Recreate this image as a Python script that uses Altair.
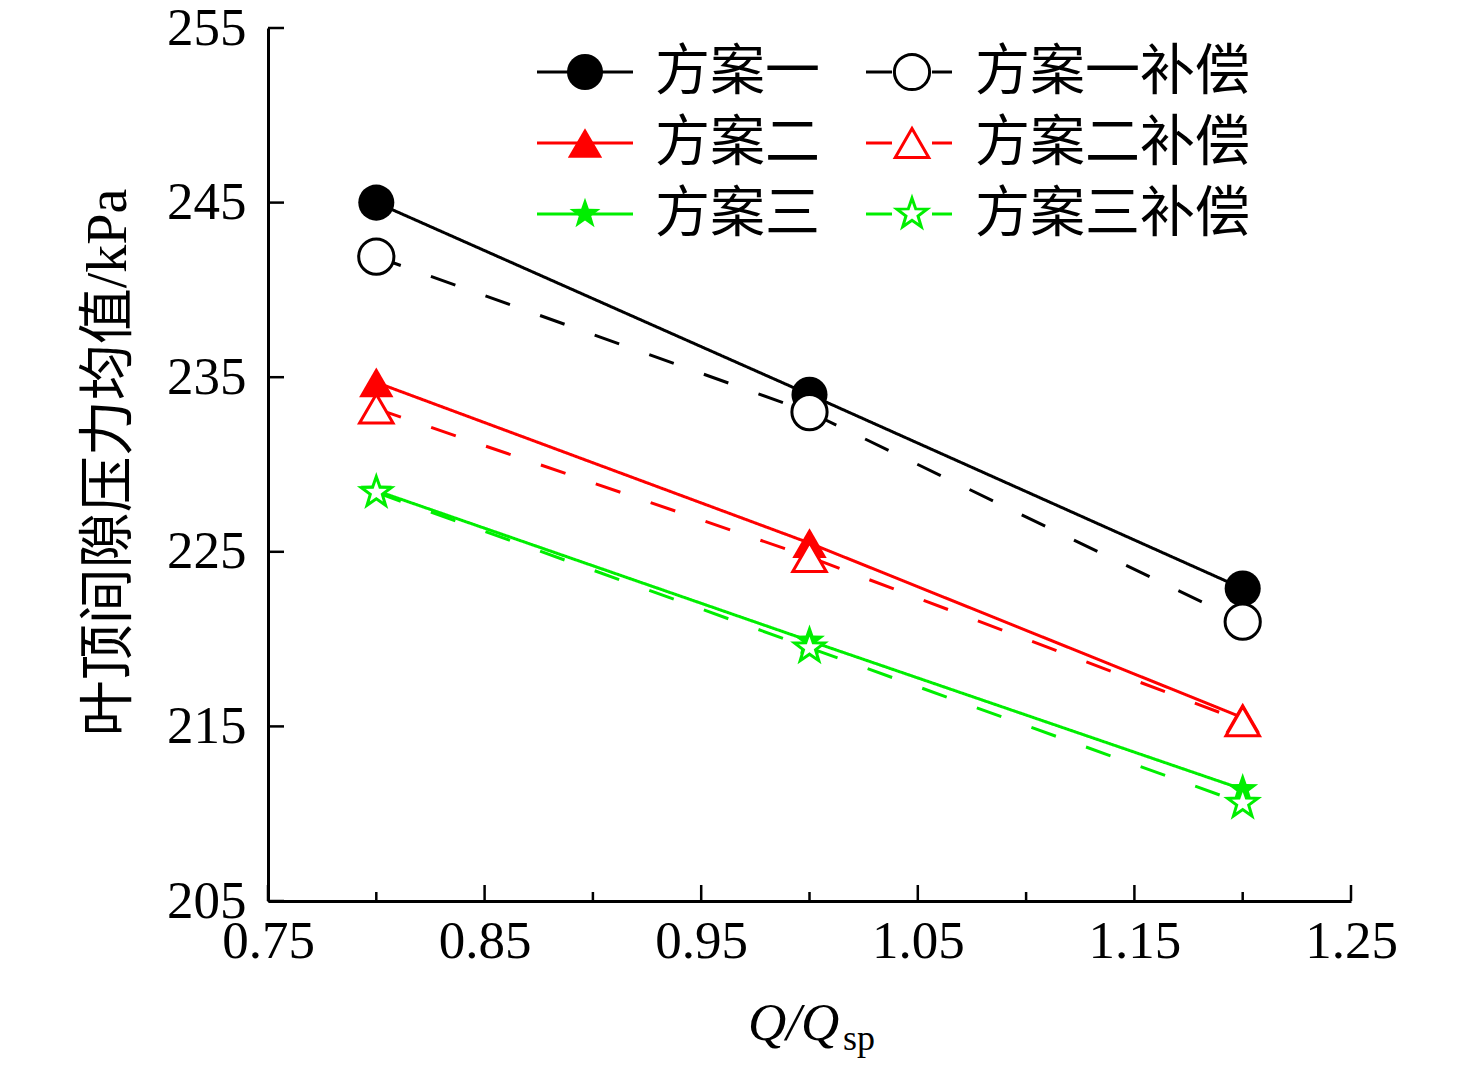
import altair as alt
import pandas as pd

# ---- data ----
x_vals = [0.8, 1.0, 1.2]
series = ["方案一", "方案一补偿", "方案二", "方案二补偿", "方案三", "方案三补偿"]
s1 = [245.0, 234.0, 222.9]
s1c = [241.9, 233.0, 221.0]
s2 = [234.7, 225.5, 215.5]
s2c = [233.2, 224.7, 215.3]
s3 = [228.5, 219.9, 211.4]
s3c = [228.4, 219.5, 210.6]
values = [s1, s1c, s2, s2c, s3, s3c]

x_major = [0.75, 0.85, 0.95, 1.05, 1.15, 1.25]
x_minor = [0.80, 0.90, 1.00, 1.10, 1.20]
y_major = [205, 215, 225, 235, 245, 255]

legend_col = [0, 1, 0, 1, 0, 1]
legend_row = [0, 0, 1, 1, 2, 2]

# ---- styling ----
STAR = ("M0,-1 L0.2351,-0.3236 L0.9511,-0.309 L0.3804,0.1236 L0.5878,0.809 "
        "L0,0.4 L-0.5878,0.809 L-0.3804,0.1236 L-0.9511,-0.309 L-0.2351,-0.3236 Z")
colors = ["#000000", "#000000", "#ff0000", "#ff0000", "#00ee00", "#00ee00"]
shapes = ["circle", "circle", "triangle-up", "triangle-up", STAR, STAR]
sizes = [1300, 1000, 1800, 1650, 1950, 1850]
dashes = [[1, 0], [26, 32], [1, 0], [26, 32], [1, 0], [26, 32]]

FONT = "Liberation Serif, Noto Sans CJK SC"
W, H = 1083, 873

rows = []
for name, vals in zip(series, values):
    for xv, yv in zip(x_vals, vals):
        rows.append({"series": name, "x": xv, "y": yv,
                     "open": name.endswith("补偿")})
df = pd.DataFrame(rows)

color_s = alt.Scale(domain=series, range=colors)
shape_s = alt.Scale(domain=series, range=shapes)
size_s = alt.Scale(domain=series, range=sizes)
dash_s = alt.Scale(domain=series, range=dashes)

xs = alt.Scale(domain=[0.75, 1.25], nice=False, zero=False)
ys = alt.Scale(domain=[205, 255], nice=False, zero=False)

X = alt.X("x:Q", scale=xs,
          axis=alt.Axis(values=x_major, format=".2f", ticks=False, grid=False,
                        domainColor="black", domainWidth=3, labelFont=FONT,
                        labelFontSize=53, labelColor="black", labelPadding=14,
                        labelFlush=False, labelOverlap=False, title=None))
Y = alt.Y("y:Q", scale=ys,
          axis=alt.Axis(values=y_major, format="d", ticks=False, grid=False,
                        domainColor="black", domainWidth=3, labelFont=FONT,
                        labelFontSize=53, labelColor="black", labelPadding=22,
                        labelFlush=False, labelOverlap=False,
                        title="叶顶间隙压力均值/kPa", titleFont=FONT,
                        titleFontSize=56, titleFontWeight="normal",
                        titleColor="black", titleX=-160, titleY=434,
                        titleBaseline="middle", titleAlign="center"))

base = alt.Chart(df)

lines = base.mark_line(strokeWidth=3).encode(
    x=X, y=Y,
    color=alt.Color("series:N", scale=color_s, legend=None),
    strokeDash=alt.StrokeDash("series:N", scale=dash_s, legend=None),
    detail="series:N",
)

filled_pts = base.transform_filter("!datum.open").mark_point(
    filled=True, opacity=1).encode(
    x="x:Q", y="y:Q",
    color=alt.Color("series:N", scale=color_s, legend=None),
    shape=alt.Shape("series:N", scale=shape_s, legend=None),
    size=alt.Size("series:N", scale=size_s, legend=None),
)

open_pts = base.transform_filter("datum.open").mark_point(
    filled=False, fill="white", fillOpacity=1, strokeWidth=3, opacity=1).encode(
    x="x:Q", y="y:Q",
    stroke=alt.Stroke("series:N", scale=color_s, legend=None),
    shape=alt.Shape("series:N", scale=shape_s, legend=None),
    size=alt.Size("series:N", scale=size_s, legend=None),
)

# ---- inward ticks ----
tick_major_x = alt.Chart(pd.DataFrame({"t": x_major})).mark_rule(
    color="black", strokeWidth=2.5).encode(
    x=alt.X("t:Q", scale=xs), y=alt.value(H), y2=alt.value(H - 16))
tick_minor_x = alt.Chart(pd.DataFrame({"t": x_minor})).mark_rule(
    color="black", strokeWidth=2.5).encode(
    x=alt.X("t:Q", scale=xs), y=alt.value(H), y2=alt.value(H - 9))
tick_major_y = alt.Chart(pd.DataFrame({"t": y_major})).mark_rule(
    color="black", strokeWidth=2.5).encode(
    y=alt.Y("t:Q", scale=ys), x=alt.value(0), x2=alt.value(16))

# ---- x title: Q/Q with subscript sp ----
xt1 = alt.Chart(pd.DataFrame({"t": ["Q/Q"]})).mark_text(
    font=FONT, fontSize=53, fontStyle="italic", align="left",
    baseline="alphabetic", color="black").encode(
    text="t:N", x=alt.value(480), y=alt.value(1012))
xt2 = alt.Chart(pd.DataFrame({"t": ["sp"]})).mark_text(
    font=FONT, fontSize=36, align="left", baseline="alphabetic",
    color="black").encode(
    text="t:N", x=alt.value(575), y=alt.value(1022))

# ---- manual legend ----
leg = pd.DataFrame({"series": series, "col": legend_col, "row": legend_row,
                    "open": [s.endswith("补偿") for s in series]})
lbase = alt.Chart(leg).transform_calculate(
    lx0="269 + 329*datum.col",
    lx1="365 + 319*datum.col",
    mx="317 + 327*datum.col",
    tx="387 + 320*datum.col",
    ly="44 + 71*datum.row",
).transform_calculate(
    la="datum.mx - 20*datum.col",
    lb="datum.mx + 20*datum.col",
)
leg_line_l = lbase.mark_rule(strokeWidth=3).encode(
    x=alt.X("lx0:Q", scale=None), x2="la:Q", y=alt.Y("ly:Q", scale=None),
    color=alt.Color("series:N", scale=color_s, legend=None))
leg_line_r = lbase.mark_rule(strokeWidth=3).encode(
    x=alt.X("lb:Q", scale=None), x2="lx1:Q", y=alt.Y("ly:Q", scale=None),
    color=alt.Color("series:N", scale=color_s, legend=None))
leg_filled = lbase.transform_filter("!datum.open").mark_point(
    filled=True, opacity=1).encode(
    x=alt.X("mx:Q", scale=None), y=alt.Y("ly:Q", scale=None),
    color=alt.Color("series:N", scale=color_s, legend=None),
    shape=alt.Shape("series:N", scale=shape_s, legend=None),
    size=alt.Size("series:N", scale=size_s, legend=None))
leg_open = lbase.transform_filter("datum.open").mark_point(
    filled=False, fill="white", fillOpacity=1, strokeWidth=3, opacity=1).encode(
    x=alt.X("mx:Q", scale=None), y=alt.Y("ly:Q", scale=None),
    stroke=alt.Stroke("series:N", scale=color_s, legend=None),
    shape=alt.Shape("series:N", scale=shape_s, legend=None),
    size=alt.Size("series:N", scale=size_s, legend=None))
leg_text = lbase.mark_text(font=FONT, fontSize=55, align="left",
                           baseline="middle", color="black").encode(
    x=alt.X("tx:Q", scale=None), y=alt.Y("ly:Q", scale=None), text="series:N")

chart = alt.layer(
    lines, filled_pts, open_pts,
    tick_major_x, tick_minor_x, tick_major_y,
    xt1, xt2,
    leg_line_l, leg_line_r, leg_filled, leg_open, leg_text,
).properties(
    width=W, height=H,
    padding={"left": 260, "top": 20, "right": 100, "bottom": 160},
    autosize=alt.AutoSizeParams(type="none"),
    background="white",
).configure_view(stroke=None)

chart.save("out.html", embed_options={"renderer": "svg", "actions": False})
